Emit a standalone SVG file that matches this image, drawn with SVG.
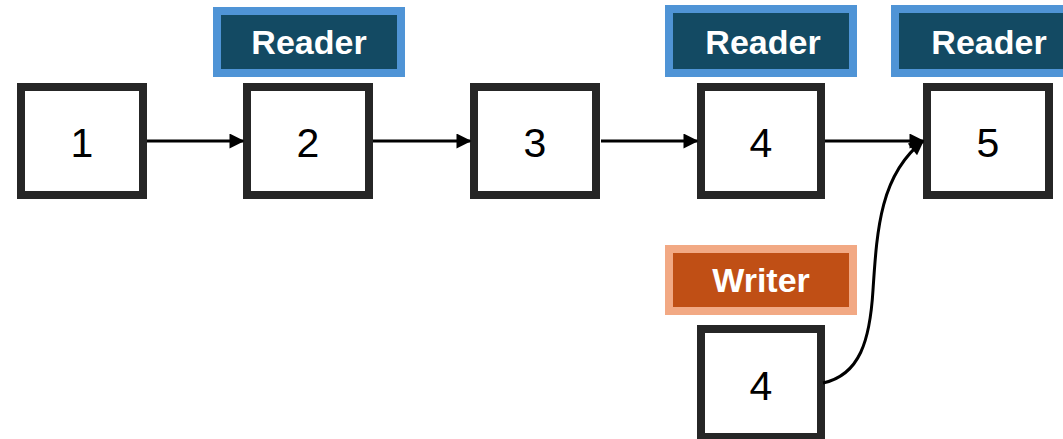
<svg xmlns="http://www.w3.org/2000/svg" width="1063" height="439" viewBox="0 0 1063 439">
  <style>
    .box { fill: #ffffff; stroke: #262626; stroke-width: 8; }
    .num { font-family: "Liberation Sans", Arial, sans-serif; font-size: 41px; fill: #000000; text-anchor: middle; }
    .reader rect { fill: #134A63; stroke: #4F94D6; stroke-width: 8; }
    .writer rect { fill: #C04F15; stroke: #F2A984; stroke-width: 8; }
    .tag { font-family: "Liberation Sans", Arial, sans-serif; font-weight: bold; font-size: 34px; fill: #ffffff; text-anchor: middle; }
    .link { fill: none; stroke: #000000; stroke-width: 3; }
  </style>
  <defs>
    <marker id="arrow" viewBox="0 0 10 10" refX="9" refY="5" markerWidth="5.5" markerHeight="5" orient="auto" markerUnits="strokeWidth">
      <path d="M0,0 L10,5 L0,10 z" fill="#000000"/>
    </marker>
  </defs>

  <!-- list nodes -->
  <g id="node-1"><rect class="box" x="21" y="87" width="122" height="108"/><text class="num" x="82" y="157">1</text></g>
  <g id="node-2"><rect class="box" x="247" y="87" width="122" height="108"/><text class="num" x="308" y="157">2</text></g>
  <g id="node-3"><rect class="box" x="474" y="87" width="122" height="108"/><text class="num" x="535" y="157">3</text></g>
  <g id="node-4"><rect class="box" x="701" y="87" width="120" height="108"/><text class="num" x="761" y="157">4</text></g>
  <g id="node-5"><rect class="box" x="927" y="87" width="122" height="108"/><text class="num" x="988" y="157">5</text></g>
  <g id="node-4-new"><rect class="box" x="701" y="329" width="120" height="108"/><text class="num" x="761" y="400">4</text></g>

  <!-- role tags -->
  <g id="reader-2" class="reader"><rect x="217" y="11" width="184" height="62"/><text class="tag" x="309" y="54">Reader</text></g>
  <g id="reader-4" class="reader"><rect x="669" y="9" width="184" height="64"/><text class="tag" x="763" y="54">Reader</text></g>
  <g id="reader-5" class="reader"><rect x="895" y="9" width="184" height="64"/><text class="tag" x="989" y="54">Reader</text></g>
  <g id="writer" class="writer"><rect x="669" y="249" width="184" height="62"/><text class="tag" x="761" y="292">Writer</text></g>

  <!-- next pointers -->
  <g id="connectors">
    <path class="link" d="M147,141 L243,141" marker-end="url(#arrow)"/>
    <path class="link" d="M373,141 L470,141" marker-end="url(#arrow)"/>
    <path class="link" d="M601,141 L697,141" marker-end="url(#arrow)"/>
    <path class="link" d="M825,141 L923,141" marker-end="url(#arrow)"/>
    <path class="link" d="M823,383 C860,375 870,340 873,290 C877,230 880,175 923,141" marker-end="url(#arrow)"/>
  </g>
</svg>
